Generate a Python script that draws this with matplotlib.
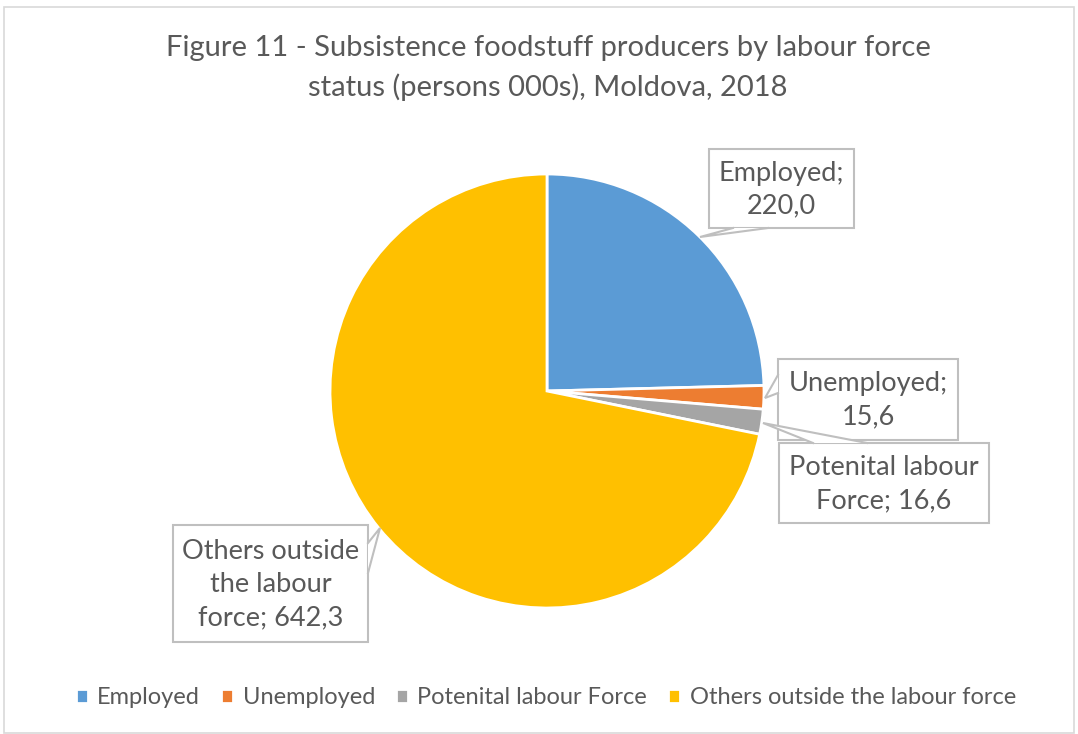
import matplotlib.pyplot as plt
from matplotlib.patches import Rectangle, Polygon

labels = ["Employed", "Unemployed", "Potenital labour Force", "Others outside the labour force"]
box_text = ["Employed;\n220,0", "Unemployed;\n15,6", "Potenital labour\nForce; 16,6",
            "Others outside\nthe labour\nforce; 642,3"]
values = [220.0, 15.6, 16.6, 642.3]
colors = ["#5B9BD5", "#ED7D31", "#A5A5A5", "#FFC000"]

plt.rcParams['font.family'] = ['Lato', 'DejaVu Sans']
txt = "#595959"
edge = "#BFBFBF"

W, H = 1078, 734
fig = plt.figure(figsize=(W / 100, H / 100), dpi=100)
ax = fig.add_axes([0, 0, 1, 1])

# y axis points down, so start at -90 and run counterclockwise in data terms
# (which reads as clockwise from 12 o'clock on screen)
cx, cy, r = 547, 391, 217
wedges, _ = ax.pie(values, colors=colors, startangle=-90, counterclock=True,
                   center=(cx, cy), radius=r,
                   wedgeprops=dict(edgecolor="white", linewidth=2))
ax.set_xlim(0, W)
ax.set_ylim(H, 0)
ax.set_aspect("equal")
ax.axis("off")

# chart border
ax.add_patch(Rectangle((4, 7), W - 8, H - 8, fill=False, ec="#D9D9D9", lw=1.2))

ax.text(548, 48, "Figure 11 - Subsistence foodstuff producers by labour force",
        ha="center", va="center", fontsize=21, color=txt)
ax.text(548, 87, "status (persons 000s), Moldova, 2018",
        ha="center", va="center", fontsize=21, color=txt)

# callouts: box (x0, y0, x1, y1), pointer base points, pointer tip on the slice
boxes = [(709, 149, 854, 228), (778, 359, 958, 440),
         (779, 443, 989, 523), (173, 525, 368, 642)]
bases = [((733, 228), (768, 228)), ((778, 375), (778, 393)),
         ((813, 443), (867, 443)), ((368, 543), (368, 573))]
tips = [(700, 237), (765, 398), (763, 423), (380, 528)]

for t, (x0, y0, x1, y1), (b1, b2), tip in zip(box_text, boxes, bases, tips):
    ax.add_patch(Rectangle((x0, y0), x1 - x0, y1 - y0, fc="white", ec=edge, lw=1.5, zorder=3))
    ax.add_patch(Polygon([b1, tip, b2], closed=True, fc="white", ec="none", zorder=4))
    ax.plot([b1[0], tip[0], b2[0]], [b1[1], tip[1], b2[1]], color=edge, lw=1.5,
            zorder=5, solid_joinstyle="miter")
    ax.text((x0 + x1) / 2, (y0 + y1) / 2 + 1, t, ha="center", va="center",
            fontsize=19.5, color=txt, linespacing=1.4, zorder=6)

fig.legend(wedges, labels, loc="center", bbox_to_anchor=(546 / W, 1 - 698 / H),
           ncol=4, frameon=False, fontsize=17, handlelength=0.5, handleheight=0.5,
           handletextpad=0.4, columnspacing=0.9, labelcolor=txt)

fig.savefig("out.png", dpi=100)
